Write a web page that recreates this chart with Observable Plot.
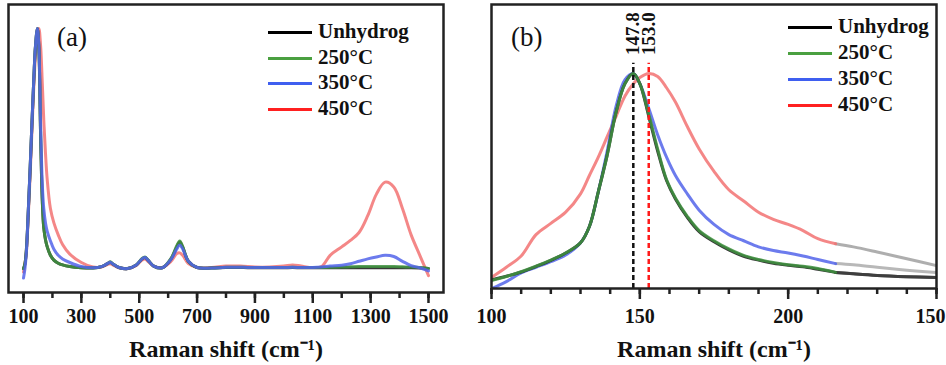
<!DOCTYPE html>
<html>
<head>
<meta charset="utf-8">
<script src="https://cdn.jsdelivr.net/npm/d3@7"></script>
<script src="https://cdn.jsdelivr.net/npm/@observablehq/plot@0.6"></script>
<style>
  body { margin: 0; background: #fff; }
  #chart { position: relative; width: 946px; height: 365px; overflow: hidden;
           font-family: "Liberation Serif", "Times New Roman", serif; color: #111; }
  .panel { position: absolute; top: 0; }
  .legend { position: absolute; top: 0; font-weight: bold; font-size: 21px; line-height: 21px; }
  .legend .swatch { position: absolute; left: 0; width: 44px; height: 3px; }
  .legend .name { position: absolute; left: 50px; white-space: nowrap; }
  .tag { position: absolute; font-size: 27px; line-height: 27px; }
</style>
</head>
<body>
<div id="chart"></div>
<script>
// Samples and their colours
const samples = ["Unhydrog", "250°C", "350°C", "450°C"];
const lineColors = ["#151515", "#3f933f", "#5264ea", "#f27272"];
const legendColors = ["#000000", "#4aa040", "#3f5ff0", "#ff2020"];
const tailColors = ["#3a3a3a", "#3a3a3a", "#ababab", "#a0a0a0"];

// (a) full Raman spectra, 100–1500 cm-1 (normalised intensity)
const shiftA = [100, 105, 110, 118, 124, 130, 136, 141, 148, 153, 159, 165, 170, 176, 182, 193, 205, 220, 235, 260,
  300, 340, 370, 390, 400, 410, 430, 460, 490, 510, 520, 530, 550, 580, 610, 630, 640, 650, 670, 700,
  750, 800, 850, 900, 950, 1000, 1030, 1060, 1100, 1130, 1160, 1200, 1230, 1260, 1290, 1320, 1350, 1380, 1410, 1440,
  1470, 1500];
const unhydrogA = [0.0, 0.02, 0.08, 0.28, 0.45, 0.63, 0.8, 0.92, 1.0, 0.92, 0.56, 0.28, 0.17, 0.12, 0.09, 0.055, 0.035, 0.022, 0.015, 0.008,
  0.003, 0.002, 0.008, 0.02, 0.026, 0.018, 0.004, 0.0, 0.015, 0.04, 0.046, 0.035, 0.01, 0.003, 0.04, 0.09, 0.11, 0.09, 0.03, 0.004,
  0.002, 0.004, 0.004, 0.003, 0.003, 0.003, 0.004, 0.003, 0.003, 0.003, 0.003, 0.003, 0.003, 0.003, 0.003, 0.003, 0.003, 0.003, 0.003, 0.003,
  0.002, 0.0];
const h250A = [0.0, 0.02, 0.08, 0.28, 0.45, 0.63, 0.8, 0.92, 1.0, 0.92, 0.56, 0.28, 0.17, 0.12, 0.09, 0.055, 0.035, 0.022, 0.015, 0.008,
  0.003, 0.002, 0.008, 0.02, 0.028, 0.018, 0.004, 0.0, 0.015, 0.042, 0.048, 0.036, 0.01, 0.003, 0.042, 0.095, 0.115, 0.092, 0.03, 0.004,
  0.002, 0.005, 0.005, 0.004, 0.004, 0.004, 0.005, 0.004, 0.004, 0.004, 0.005, 0.006, 0.007, 0.008, 0.008, 0.008, 0.008, 0.008, 0.007, 0.006,
  0.004, 0.0];
const h350A = [-0.04, 0.0, 0.07, 0.28, 0.45, 0.63, 0.8, 0.92, 1.0, 0.93, 0.6, 0.35, 0.25, 0.19, 0.155, 0.115, 0.08, 0.055, 0.04, 0.025,
  0.008, 0.003, 0.008, 0.02, 0.026, 0.018, 0.004, 0.0, 0.015, 0.04, 0.046, 0.035, 0.01, 0.003, 0.038, 0.082, 0.098, 0.082, 0.03, 0.004,
  0.002, 0.005, 0.005, 0.004, 0.004, 0.004, 0.005, 0.004, 0.004, 0.006, 0.01, 0.014, 0.02, 0.03, 0.04, 0.048, 0.055, 0.05, 0.03, 0.012,
  0.003, -0.01];
const h450A = [-0.015, 0.02, 0.07, 0.26, 0.42, 0.6, 0.77, 0.88, 0.98, 1.0, 0.93, 0.77, 0.62, 0.48, 0.37, 0.25, 0.19, 0.14, 0.1, 0.06,
  0.025, 0.006, 0.006, 0.016, 0.02, 0.014, 0.003, 0.0, 0.013, 0.035, 0.04, 0.03, 0.01, 0.004, 0.03, 0.062, 0.065, 0.055, 0.02, 0.004,
  0.004, 0.01, 0.01, 0.006, 0.006, 0.01, 0.015, 0.01, 0.004, 0.008, 0.055, 0.09, 0.117, 0.15, 0.22, 0.31, 0.36, 0.34, 0.25, 0.14,
  0.055, -0.03];

// (b) zoom on the main band, 100–250 cm-1
const shiftB = [100, 105, 110, 115, 120, 125, 130, 133, 136, 139, 142, 145, 147.8, 150, 153, 156, 159, 162, 166, 170,
  175, 180, 185, 190, 195, 200, 205, 210, 216, 222, 230, 240, 250];
const unhydrogB = [-0.012, 0.006, 0.027, 0.054, 0.084, 0.12, 0.17, 0.25, 0.42, 0.6, 0.81, 0.95, 1.0, 0.95, 0.79, 0.62, 0.475, 0.385, 0.295, 0.225,
  0.175, 0.135, 0.104, 0.085, 0.07, 0.06, 0.052, 0.04, 0.025, 0.018, 0.01, 0.004, 0.0];
const h250B = [-0.015, 0.005, 0.028, 0.055, 0.085, 0.12, 0.17, 0.25, 0.42, 0.6, 0.81, 0.95, 1.0, 0.95, 0.8, 0.63, 0.48, 0.39, 0.3, 0.23,
  0.18, 0.14, 0.108, 0.088, 0.073, 0.062, 0.055, 0.044, 0.025, 0.018, 0.01, 0.004, 0.0];
const h350B = [-0.055, -0.02, 0.022, 0.05, 0.078, 0.11, 0.17, 0.25, 0.42, 0.62, 0.84, 0.97, 1.0, 0.95, 0.83, 0.7, 0.59, 0.5, 0.41, 0.33,
  0.26, 0.21, 0.18, 0.15, 0.132, 0.12, 0.105, 0.088, 0.068, 0.062, 0.05, 0.036, 0.024];
const h450B = [0.0, 0.05, 0.105, 0.21, 0.265, 0.32, 0.41, 0.5, 0.59, 0.69, 0.79, 0.89, 0.95, 0.98, 1.0, 0.985, 0.93, 0.86, 0.74, 0.63,
  0.52, 0.43, 0.375, 0.32, 0.285, 0.26, 0.23, 0.19, 0.165, 0.15, 0.125, 0.092, 0.058];

// Colour fades to grey past this shift in panel (b)
const fadeShiftB = 216;

// Peak positions marked in panel (b)
const peakShifts = [147.8, 153.0];
const peakLabels = ["147.8", "153.0"];
const peakColors = ["#111111", "#ff1a1a"];
const peakTop = 1.05;

// Axis ticks
const ticksA = d3.range(100, 1501, 100);
const labelTicksA = [100, 300, 500, 700, 900, 1100, 1300, 1500];
const ticksB = d3.range(100, 251, 10);
const labelTicksB = [100, 150, 200, 250];
const tickLabelsB = ["100", "150", "200", "150"];
const axisTitle = "Raman shift (cm⁻¹)";

const toRows = (grid, values, k) => grid.map((shift, i) => ({shift, intensity: values[i], k}));
const dataA = [unhydrogA, h250A, h350A, h450A].flatMap((v, k) => toRows(shiftA, v, k));
const dataB = [unhydrogB, h250B, h350B, h450B].flatMap((v, k) => toRows(shiftB, v, k));
const peaks = peakShifts.map((shift, i) => ({shift, label: peakLabels[i], color: peakColors[i]}));

const drawOrderA = [3, 0, 1, 2];
const drawOrderB = [3, 2, 0, 1];

const baseStyle = {
  fontFamily: '"Liberation Serif", "Times New Roman", serif',
  fontSize: "20px", fontWeight: "bold", color: "#111",
  background: "transparent", overflow: "visible"
};

const lineOpts = (k, stroke) => ({
  x: "shift", y: "intensity", stroke, strokeWidth: 3, strokeOpacity: 0.85,
  curve: "catmull-rom", clip: true
});

const yDomainA = [-0.1, 1.1];
const plotA = Plot.plot({
  width: 470, height: 365,
  marginLeft: 8, marginRight: 27, marginTop: 4, marginBottom: 73,
  x: {domain: [48.1, 1551.9]},
  y: {domain: yDomainA, axis: null},
  style: baseStyle,
  marks: [
    ...drawOrderA.map(k => Plot.line(dataA.filter(d => d.k === k), lineOpts(k, lineColors[k]))),
    Plot.axisX({ticks: ticksA, tickSize: 6, tickFormat: () => "", stroke: "#222", strokeWidth: 2.5, label: null}),
    Plot.axisX({ticks: labelTicksA, tickSize: 11, tickPadding: 5, stroke: "#222", strokeWidth: 2.5,
                tickFormat: d => String(d), fontSize: 20, fontWeight: "bold", label: null}),
    Plot.text([axisTitle], {text: d => d, frameAnchor: "bottom", dy: 64, fontSize: 24, fontWeight: "bold"}),
    Plot.frame({stroke: "#222", strokeWidth: 2.5})
  ]
});

const yDomainB = [-0.054, 1.338];
const plotB = Plot.plot({
  width: 476, height: 365,
  marginLeft: 21, marginRight: 10, marginTop: 4, marginBottom: 77,
  x: {domain: [100, 250]},
  y: {domain: yDomainB, axis: null},
  style: baseStyle,
  marks: [
    ...drawOrderB.map(k => Plot.line(dataB.filter(d => d.k === k && d.shift >= fadeShiftB), lineOpts(k, tailColors[k]))),
    ...drawOrderB.map(k => Plot.line(dataB.filter(d => d.k === k && d.shift <= fadeShiftB), lineOpts(k, lineColors[k]))),
    Plot.ruleX(peaks, {x: "shift", y1: yDomainB[0], y2: peakTop, stroke: "color", strokeWidth: 2.5, strokeDasharray: "5,3"}),
    Plot.text(peaks, {x: "shift", y: peakTop + 0.04, text: "label", rotate: -90, textAnchor: "start",
                      fontSize: 19, fontWeight: "bold", fill: "#111"}),
    Plot.axisX({ticks: ticksB, tickSize: 6, tickFormat: () => "", stroke: "#222", strokeWidth: 2.5, label: null}),
    Plot.axisX({ticks: labelTicksB, tickSize: 11, tickFormat: () => "", stroke: "#222", strokeWidth: 2.5, label: null}),
    Plot.axisX({ticks: labelTicksB.slice(0, 3), tickSize: 0, tickPadding: 20,
                tickFormat: d => tickLabelsB[labelTicksB.indexOf(d)], fontSize: 20, fontWeight: "bold", label: null}),
    Plot.axisX({ticks: labelTicksB.slice(3), tickSize: 0, tickPadding: 20, dx: -6,
                tickFormat: d => tickLabelsB[labelTicksB.indexOf(d)], fontSize: 20, fontWeight: "bold", label: null}),
    Plot.text([axisTitle], {text: d => d, frameAnchor: "bottom", dy: 68, fontSize: 24, fontWeight: "bold"}),
    Plot.frame({stroke: "#222", strokeWidth: 2.5})
  ]
});

const chart = document.getElementById("chart");
function place(node, left) {
  node.classList.add("panel");
  node.style.left = left + "px";
  chart.appendChild(node);
}
place(plotA, 0);
place(plotB, 470);

function addTag(text, left, centerY) {
  const el = document.createElement("div");
  el.className = "tag";
  el.textContent = text;
  el.style.left = left + "px";
  el.style.top = (centerY - 14) + "px";
  chart.appendChild(el);
}
addTag("(a)", 57, 38);
addTag("(b)", 511, 38);

function addLegend(left, centers) {
  const box = document.createElement("div");
  box.className = "legend";
  box.style.left = left + "px";
  samples.forEach((name, k) => {
    const sw = document.createElement("div");
    sw.className = "swatch";
    sw.style.top = (centers[k] - 1.5) + "px";
    sw.style.background = legendColors[k];
    const tx = document.createElement("div");
    tx.className = "name";
    tx.style.top = (centers[k] - 10.7) + "px";
    tx.textContent = name;
    box.appendChild(sw);
    box.appendChild(tx);
  });
  chart.appendChild(box);
}
addLegend(268, [32, 58, 83, 109]);
addLegend(788, [27, 53, 79, 105]);
</script>
</body>
</html>
